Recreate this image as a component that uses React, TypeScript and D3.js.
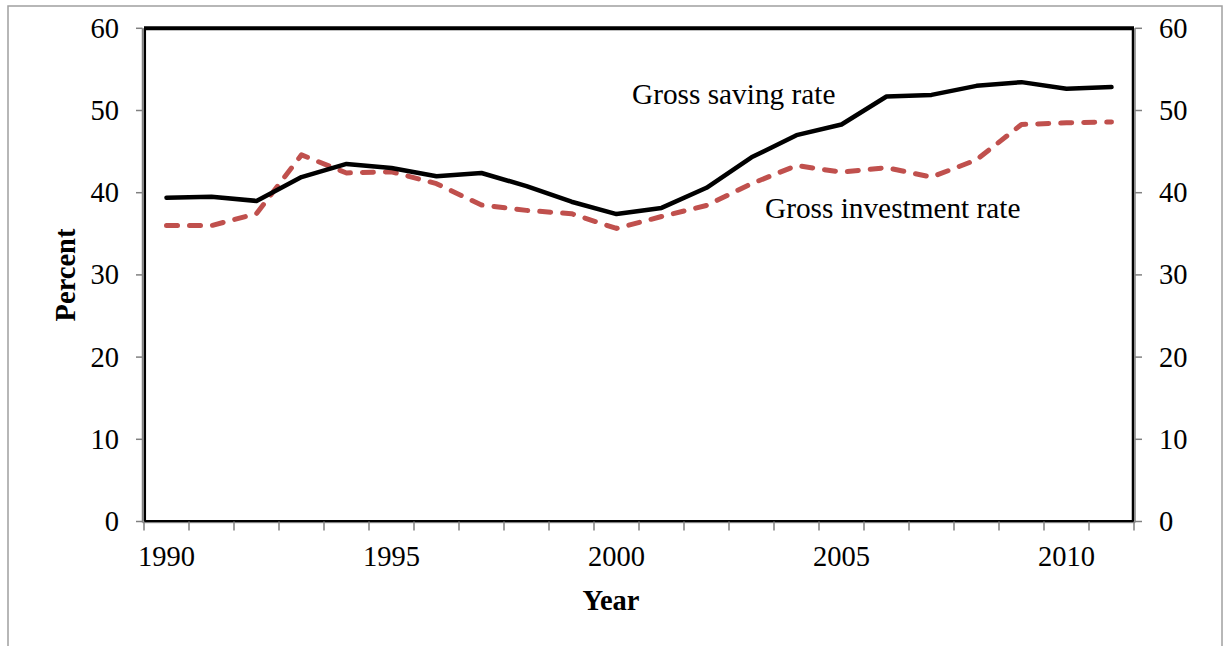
import React from "react";
import * as d3 from "d3";

const years = [1990,1991,1992,1993,1994,1995,1996,1997,1998,1999,2000,2001,2002,2003,2004,2005,2006,2007,2008,2009,2010,2011];
const savingRate = [39.4,39.5,39.0,41.9,43.5,43.0,42.0,42.4,40.8,38.9,37.4,38.15,40.6,44.3,47.0,48.3,51.7,51.9,53.0,53.45,52.65,52.85];
const investmentRate = [36.0,36.0,37.45,44.6,42.4,42.55,41.1,38.5,37.85,37.45,35.65,37.1,38.45,41.1,43.3,42.5,43.05,41.9,44.0,48.3,48.5,48.6];
const yTicks = [0,10,20,30,40,50,60];
const xLabelYears = [1990,1995,2000,2005,2010];

export default function App() {
  const left = 144, right = 1134, top = 28.3, bottom = 521.5;
  const x = d3.scaleBand<number>().domain(years).range([left, right]).padding(0);
  const y = d3.scaleLinear().domain([0, 60]).range([bottom, top]);
  const cx = (yr: number) => (x(yr) as number) + x.bandwidth() / 2;
  const line = d3.line<number>().x((_, i) => cx(years[i])).y((v) => y(v));
  const font = "'Liberation Serif', 'Times New Roman', serif";
  const fs = 28.5;
  const fsLabel = 29.3;
  const boundaries = years.map((yr) => x(yr) as number).concat([right]);

  return (
    <svg width={1225} height={646} style={{ position: "absolute", left: 0, top: 0, background: "#fff" }}>
      <rect x={8} y={6} width={1214} height={660} fill="#fff" stroke="#a0a0a0" strokeWidth={1.5} />
      {/* plot frame */}
      <line x1={left} x2={right} y1={top} y2={top} stroke="#000" strokeWidth={4} />
      <line x1={left + 0.8} x2={left + 0.8} y1={top} y2={bottom} stroke="#000" strokeWidth={2.5} />
      <line x1={right - 1} x2={right - 1} y1={top} y2={bottom} stroke="#000" strokeWidth={2.5} />
      <line x1={left} x2={right} y1={bottom - 0.3} y2={bottom - 0.3} stroke="#000" strokeWidth={2.5} />
      {/* gray axis lines */}
      <line x1={left - 1.5} x2={left - 1.5} y1={top} y2={bottom + 1} stroke="#808080" strokeWidth={1.5} />
      <line x1={right + 1} x2={right + 1} y1={top} y2={bottom + 1} stroke="#808080" strokeWidth={1.5} />
      <line x1={left - 1.5} x2={right + 1} y1={bottom + 1.2} y2={bottom + 1.2} stroke="#808080" strokeWidth={1} />
      {/* y ticks */}
      {yTicks.map((t) => (
        <g key={"yt" + t}>
          <line x1={left - 8} x2={left - 1.5} y1={y(t)} y2={y(t)} stroke="#808080" strokeWidth={1.5} />
          <line x1={right + 1} x2={right + 8} y1={y(t)} y2={y(t)} stroke="#808080" strokeWidth={1.5} />
          <text x={119} y={y(t) + 9.5} textAnchor="end" fontFamily={font} fontSize={fs} fill="#000">{t}</text>
          <text x={1159} y={y(t) + 9.5} textAnchor="start" fontFamily={font} fontSize={fs} fill="#000">{t}</text>
        </g>
      ))}
      {/* x ticks */}
      {boundaries.map((b, i) => (
        <line key={"xt" + i} x1={b} x2={b} y1={bottom} y2={bottom + 9} stroke="#808080" strokeWidth={1.5} />
      ))}
      {xLabelYears.map((yr) => (
        <text key={"xl" + yr} x={cx(yr)} y={566} textAnchor="middle" fontFamily={font} fontSize={fs} fill="#000">{yr}</text>
      ))}
      {/* axis titles */}
      <text x={611} y={610} textAnchor="middle" fontFamily={font} fontSize={fs} fontWeight="bold" fill="#000">Year</text>
      <text transform="translate(75,275) rotate(-90)" textAnchor="middle" fontFamily={font} fontSize={fs} fontWeight="bold" fill="#000">Percent</text>
      {/* series */}
      <path d={line(investmentRate) || ""} fill="none" stroke="#C0504D" strokeWidth={5} strokeDasharray="11 12" strokeLinecap="round" strokeLinejoin="round" />
      <path d={line(savingRate) || ""} fill="none" stroke="#000" strokeWidth={4.5} strokeLinecap="round" strokeLinejoin="round" />
      {/* labels */}
      <text x={632} y={104} fontFamily={font} fontSize={fsLabel} fill="#000">Gross saving rate</text>
      <text x={765} y={218} fontFamily={font} fontSize={fsLabel} fill="#000">Gross investment rate</text>
    </svg>
  );
}
